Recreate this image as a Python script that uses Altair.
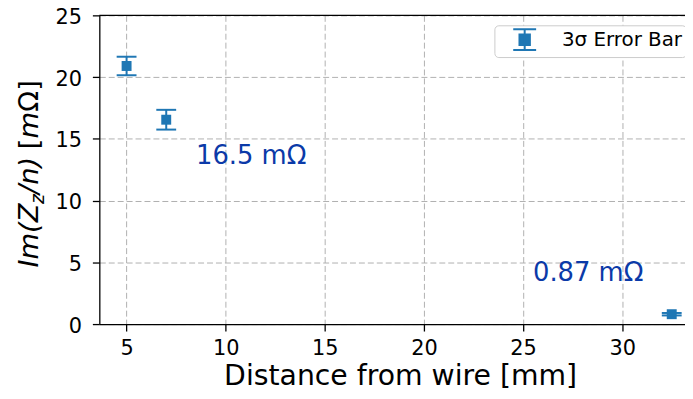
import altair as alt
import pandas as pd

# ---- data ----
distance_mm = [5, 7, 32.5]
im_z_mohm = [20.9, 16.55, 0.8]
err_3sigma = [0.75, 0.8, 0.1]
series_name = ["3σ Error Bar"] * 3

x_ticks = [5, 10, 15, 20, 25, 30]
y_ticks = [0, 5, 10, 15, 20, 25]

ann_text = ["16.5 mΩ", "0.87 mΩ"]
ann_x = [8.5, 25.5]
ann_y = [13.0, 3.5]

BLUE = "#1f77b4"
ANN = "#0b3aa8"
FONT = "DejaVu Sans"
W, H = 590, 311

df = pd.DataFrame({"x": distance_mm, "y": im_z_mohm, "e": err_3sigma, "series": series_name})
df["lo"] = df["y"] - df["e"]
df["hi"] = df["y"] + df["e"]
ann = pd.DataFrame({"t": ann_text, "x": ann_x, "y": ann_y})

xs = alt.Scale(domain=[3.625, 3.625 + W / 19.97], nice=False, zero=False)
ys = alt.Scale(domain=[0, 25], nice=False, zero=False)

xaxis = alt.Axis(values=x_ticks, title="Distance from wire [mm]", titleFont=FONT, titleFontSize=28.5,
                 titleFontWeight="normal", titleColor="black", titleX=303, titleY=61,
                 titleBaseline="alphabetic", titleAnchor="start", titleAlign="center",
                 labelFont=FONT, labelFontSize=21, labelColor="black", labelPadding=7,
                 tickSize=7, tickWidth=1.3, tickColor="black", domainColor="black", domainWidth=1.3,
                 grid=True, gridColor="#b0b0b0", gridDash=[6, 3], gridWidth=1, labelFlush=False)
yaxis = alt.Axis(values=y_ticks, title=None, labelFont=FONT, labelFontSize=21, labelColor="black",
                 labelPadding=11, labelOffset=2, tickSize=7, tickWidth=1.3, tickColor="black",
                 domainColor="black", domainWidth=1.3, grid=True, gridColor="#b0b0b0",
                 gridDash=[6, 3], gridWidth=1, labelFlush=False)

base = alt.Chart(df)
X = alt.X("x:Q", scale=xs, axis=xaxis)

bars = base.mark_rule(color=BLUE, strokeWidth=2).encode(
    x=X, y=alt.Y("lo:Q", scale=ys, axis=yaxis), y2="hi:Q")
cap_lo = base.mark_tick(orient="horizontal", size=20, thickness=2, color=BLUE, opacity=1).encode(
    x=alt.X("x:Q", scale=xs), y=alt.Y("lo:Q", scale=ys))
cap_hi = base.mark_tick(orient="horizontal", size=20, thickness=2, color=BLUE, opacity=1).encode(
    x=alt.X("x:Q", scale=xs), y=alt.Y("hi:Q", scale=ys))

sym = "M-1.1,-1H1.1M0,-1V1M-1.1,1H1.1M-0.5,-0.5H0.5V0.5H-0.5Z"
points = base.mark_square(filled=True, size=100, opacity=1).encode(
    x=alt.X("x:Q", scale=xs), y=alt.Y("y:Q", scale=ys),
    color=alt.Color("series:N", scale=alt.Scale(range=[BLUE]),
                    legend=alt.Legend(title=None, orient="none", legendX=398, legendY=10,
                                      symbolType=sym, symbolSize=440, symbolFillColor=BLUE,
                                      symbolStrokeColor=BLUE, symbolStrokeWidth=2, symbolOpacity=1,
                                      labelFont=FONT, labelFontSize=20, labelColor="black",
                                      labelExpr="datum.label + '    '",
                                      padding=3, strokeColor="#cccccc", fillColor="white",
                                      cornerRadius=4, labelOffset=26, symbolOffset=16)))

top_spine = alt.Chart(pd.DataFrame({"v": [25]})).mark_rule(color="black", strokeWidth=1.3).encode(
    y=alt.Y("v:Q", scale=ys), x=alt.value(0), x2=alt.value(W))

labels = alt.Chart(ann).mark_text(font=FONT, fontSize=26, color=ANN, align="left",
                                  baseline="alphabetic").encode(
    x=alt.X("x:Q", scale=xs), y=alt.Y("y:Q", scale=ys), text="t:N")

# y-axis title pieces (mathtext-like)
title_parts = ["Im(Z", "z", "/n)", "[", "m", "Ω]"]
title_italic = [True, True, True, False, True, False]
title_size = [27.5, 19, 27.5, 27.5, 27.5, 27.5]
title_start = [254, 190, 180, 135, 124, 97]
title_base = [-62, -56, -62, -62, -62, -62]
tdf = pd.DataFrame({"t": title_parts})
tparts = []
for i, p in enumerate(title_parts):
    tparts.append(alt.Chart(tdf).transform_filter(alt.datum.t == p).mark_text(
        font=FONT, fontSize=title_size[i], fontStyle="italic" if title_italic[i] else "normal",
        angle=270, align="left", baseline="alphabetic", color="black").encode(
        x=alt.value(title_base[i]), y=alt.value(title_start[i]), text="t:N"))

chart = alt.layer(bars, cap_lo, cap_hi, points, top_spine, labels, *tparts).properties(
    width=W, height=H, autosize=alt.AutoSizeParams(type="none"),
    padding={"left": 92, "top": 6, "right": 0, "bottom": 66},
).configure_view(stroke=None)

chart.save("out.html", embed_options={"renderer": "svg", "actions": False})
